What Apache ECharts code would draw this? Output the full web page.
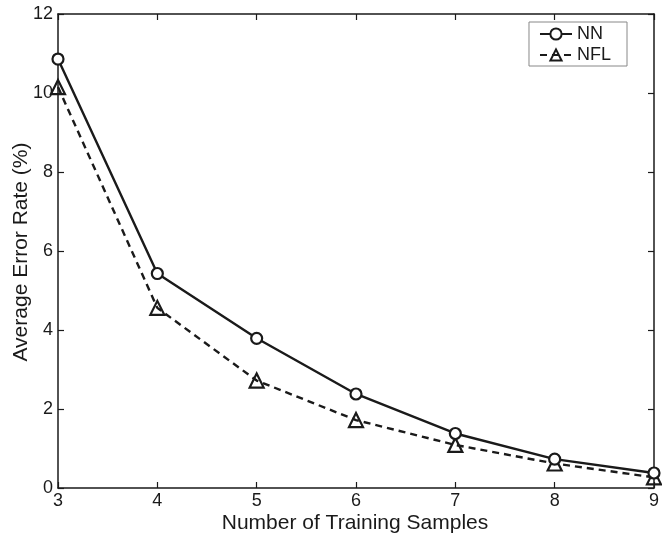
<!DOCTYPE html>
<html>
<head>
<meta charset="utf-8">
<script src="https://cdn.jsdelivr.net/npm/echarts@6/dist/echarts.min.js"></script>
<style>html,body{margin:0;padding:0;background:#fff;}#c{width:662px;height:536px;}</style>
</head>
<body>
<div id="c"></div>
<script>
const samples = [3, 4, 5, 6, 7, 8, 9];
const nnValues = [10.86, 5.43, 3.79, 2.38, 1.38, 0.73, 0.38];
const nflValues = [10.15, 4.56, 2.72, 1.72, 1.09, 0.62, 0.27];
const xLabel = 'Number of Training Samples';
const yLabel = 'Average Error Rate (%)';

const ink = '#1a1a1a';
const font = 'Liberation Sans, Arial, sans-serif';
const chart = echarts.init(document.getElementById('c'), null, {renderer: 'canvas'});
const pairs = v => samples.map((x, i) => [x, v[i]]);
const axisCommon = {
  axisLine: {show: true, onZero: false, lineStyle: {color: ink, width: 1.5}},
  axisTick: {show: true, inside: true, length: 6, lineStyle: {color: ink, width: 1.2}},
  splitLine: {show: false}
};
chart.setOption({
  animation: false,
  backgroundColor: '#fff',
  textStyle: {fontFamily: font},
  grid: {left: 58, right: 5, top: 14, bottom: 48},
  legend: {
    orient: 'vertical', right: 35, top: 22,
    itemWidth: 32, itemHeight: 14, itemGap: 3,
    padding: [3, 16, 2, 10],
    borderColor: '#888', borderWidth: 1, backgroundColor: '#fff',
    textStyle: {color: ink, fontSize: 18, fontFamily: font},
    data: ['NN', 'NFL']
  },
  graphic: [
    {type: 'text', x: 355, y: 523, silent: true,
      style: {text: xLabel, fill: ink, font: '21px ' + font, align: 'center', verticalAlign: 'middle'}},
    {type: 'text', x: 21, y: 252, rotation: Math.PI / 2, silent: true,
      style: {text: yLabel, fill: ink, font: '21px ' + font, align: 'center', verticalAlign: 'middle'}}
  ],
  xAxis: [
    Object.assign({type: 'value', min: 3, max: 9, interval: 1, position: 'bottom',
      axisLabel: {color: ink, fontSize: 18, margin: 4, fontFamily: font}}, axisCommon),
    Object.assign({type: 'value', min: 3, max: 9, interval: 1, position: 'top',
      axisLabel: {show: false}}, axisCommon)
  ],
  yAxis: [
    Object.assign({type: 'value', min: 0, max: 12, interval: 2, position: 'left',
      axisLabel: {color: ink, fontSize: 18, margin: 5, fontFamily: font}}, axisCommon),
    Object.assign({type: 'value', min: 0, max: 12, interval: 2, position: 'right',
      axisLabel: {show: false}}, axisCommon)
  ],
  series: [
    {name: 'NN', type: 'line', data: pairs(nnValues),
      symbol: 'circle', symbolSize: 11, showAllSymbol: true,
      lineStyle: {color: ink, width: 2.4, type: 'solid'},
      itemStyle: {color: '#fff', borderColor: ink, borderWidth: 2.2},
      clip: false, z: 3},
    {name: 'NFL', type: 'line', data: pairs(nflValues),
      symbol: 'triangle', symbolSize: 14, showAllSymbol: true,
      lineStyle: {color: ink, width: 2.4, type: [7, 5]},
      itemStyle: {color: 'rgba(255,255,255,0)', borderColor: ink, borderWidth: 2.2},
      clip: false, z: 2}
  ]
});
</script>
</body>
</html>
